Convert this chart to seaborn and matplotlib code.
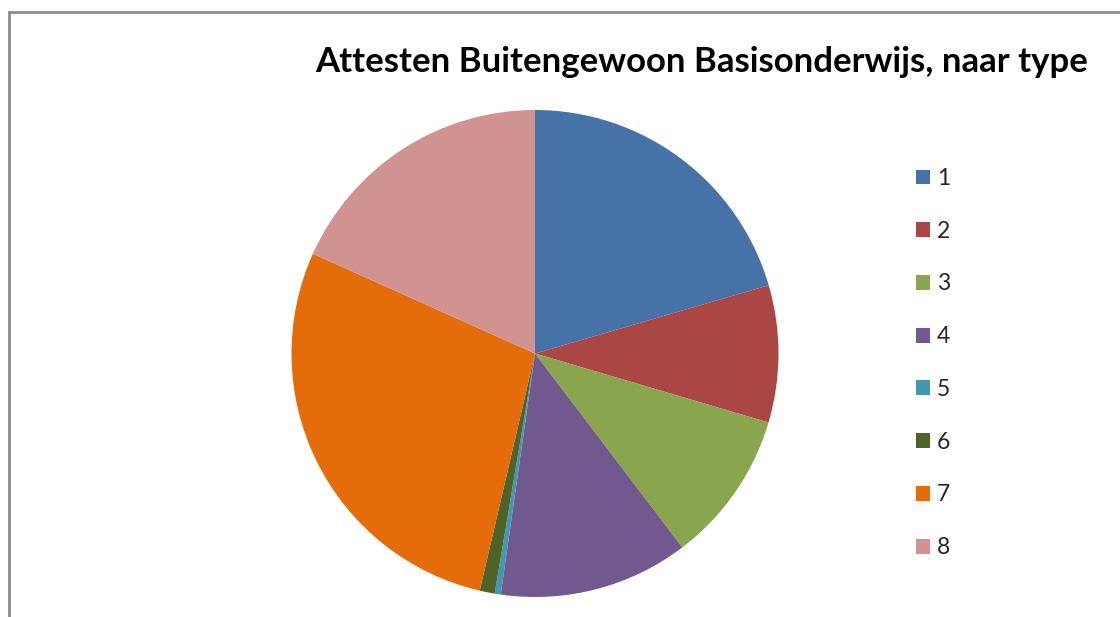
import matplotlib
matplotlib.use("Agg")
import matplotlib.pyplot as plt
import matplotlib.patches as mpatches
import seaborn as sns

# Data
categories = ["1", "2", "3", "4", "5", "6", "7", "8"]
values = [20.5, 9.1, 10.1, 12.6, 0.4, 1.0, 28.1, 18.3]
colors = ["#4672A8", "#AA4643", "#89A54E", "#71588F", "#4198AF", "#4F6228", "#E46C0A", "#D19392"]
title = "Attesten Buitengewoon Basisonderwijs, naar type"

sns.set_theme(style="white")
plt.rcParams["font.family"] = ["Lato", "DejaVu Sans"]

W, H = 1120, 617
fig = plt.figure(figsize=(W / 100, H / 100), dpi=100)
fig.patch.set_facecolor("white")

# outer chart border (clipped at right and bottom)
border = mpatches.Rectangle((9 / W, -0.1), 1.2, (H - 11.5) / H + 0.1,
                            transform=fig.transFigure, fill=False,
                            edgecolor="#8C8C8C", linewidth=2.0)
fig.add_artist(border)

cx, cy, r = 535, 353.5, 243.5
ax = fig.add_axes([(cx - r) / W, (H - cy - r) / H, 2 * r / W, 2 * r / H])
palette = sns.color_palette(colors)
wedges, _ = ax.pie(values, colors=palette, startangle=90, counterclock=False,
                   wedgeprops=dict(linewidth=0))
ax.set_xlim(-1, 1)
ax.set_ylim(-1, 1)
ax.set_aspect("equal")
ax.axis("off")

fig.text(702 / W, 1 - 62 / H, title, ha="center", va="center",
         fontsize=25, fontweight="bold", color="black")

handles = [mpatches.Patch(facecolor=c, edgecolor="none") for c in palette]
leg = fig.legend(handles, categories, loc="upper left",
                 bbox_to_anchor=(916 / W, 1 - 168 / H), frameon=False,
                 fontsize=16.5, handlelength=0.62, handleheight=0.62,
                 handletextpad=0.28, labelspacing=1.385, borderpad=0,
                 borderaxespad=0)

fig.savefig("out.png", dpi=100)
